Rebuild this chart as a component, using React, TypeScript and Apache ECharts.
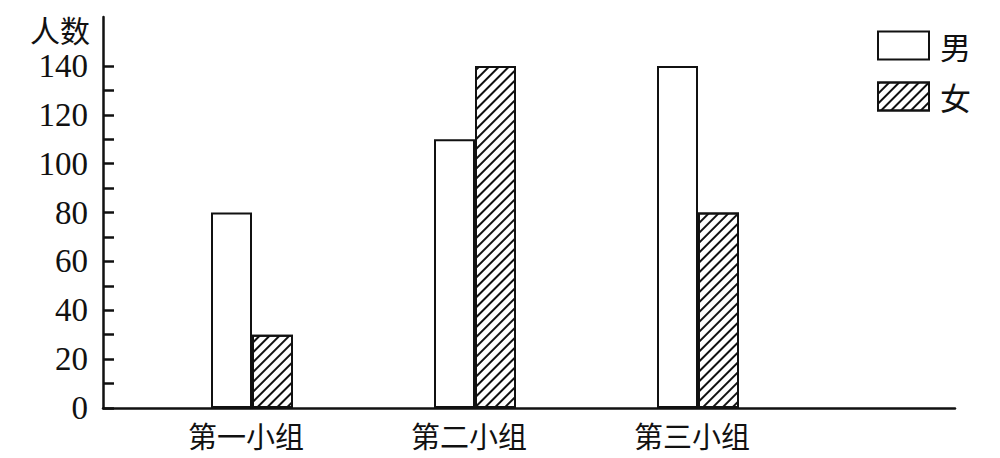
import React, { useEffect, useRef } from "react";
import * as echarts from "echarts";

const categories = ["第一小组", "第二小组", "第三小组"];
const maleValues = [80, 110, 140];
const femaleValues = [30, 140, 80];
const yLabelValues = [0, 20, 40, 60, 80, 100, 120, 140];
const yTickValues = [0, 10, 20, 30, 40, 50, 60, 70, 80, 90, 100, 110, 120, 130, 140];
const seriesNames = ["男", "女"];
const yName = "人数";

export default function App() {
  const ref = useRef<HTMLDivElement>(null);
  useEffect(() => {
    if (!ref.current) return;
    const chart = echarts.init(ref.current, undefined, { renderer: "svg" });
    const serif = "'Liberation Serif', 'Noto Sans CJK SC', serif";
    const cjk = "'Noto Sans CJK SC', sans-serif";
    chart.setOption({
      animation: false,
      backgroundColor: "#fff",
      legend: {
        orient: "vertical",
        left: 872,
        top: 25,
        itemWidth: 51,
        itemHeight: 28,
        itemGap: 20,
        icon: "rect",
        data: seriesNames,
        textStyle: { fontFamily: cjk, fontSize: 31, color: "#111", padding: [0, 0, 0, 6] },
      },
      graphic: [
        {
          type: "text",
          left: 30,
          top: 13,
          style: { text: yName, font: `30px ${cjk}`, fill: "#111", lineHeight: 32 },
        },
      ],
      grid: [
        { left: 103, right: 45, top: 17, bottom: 50, containLabel: false },
        { left: 140.5, width: 669, top: 17, bottom: 50, containLabel: false },
      ],
      xAxis: [
        {
          gridIndex: 0,
          type: "category",
          data: [],
          axisLine: { show: true, lineStyle: { color: "#111", width: 2.5 } },
          axisTick: { show: false },
          axisLabel: { show: false },
          splitLine: { show: false },
        },
        {
          gridIndex: 1,
          type: "category",
          data: categories,
          axisLine: { show: false },
          axisTick: { show: false },
          axisLabel: {
            fontFamily: cjk,
            fontSize: 29,
            color: "#111",
            margin: 12,
            padding: [0, 12, 0, 0],
          },
        },
      ],
      yAxis: [
        {
          gridIndex: 0,
          type: "value",
          min: 0,
          max: 160,
          axisLine: { show: true, lineStyle: { color: "#111", width: 2.5 } },
          axisTick: {
            show: true,
            inside: true,
            length: 11,
            customValues: yTickValues,
            lineStyle: { color: "#111", width: 2.5 },
          },
          axisLabel: {
            customValues: yLabelValues,
            fontFamily: serif,
            fontSize: 33,
            color: "#111",
            margin: 15,
            lineHeight: 30,
          },
          splitLine: { show: false },
        },
        {
          gridIndex: 1,
          type: "value",
          min: 0,
          max: 160,
          show: false,
          splitLine: { show: false },
        },
      ],
      series: [
        {
          name: seriesNames[0],
          type: "bar",
          xAxisIndex: 1,
          yAxisIndex: 1,
          data: maleValues,
          barWidth: 41,
          barGap: "0%",
          itemStyle: { color: "#fff", borderColor: "#111", borderWidth: 2 },
        },
        {
          name: seriesNames[1],
          type: "bar",
          xAxisIndex: 1,
          yAxisIndex: 1,
          data: femaleValues,
          barWidth: 41,
          barGap: "0%",
          itemStyle: {
            color: "#fff",
            borderColor: "#111",
            borderWidth: 2,
            decal: {
              symbol: "rect",
              symbolSize: 1,
              color: "#111",
              backgroundColor: "#fff",
              dashArrayX: [1, 0],
              dashArrayY: [2, 5],
              rotation: -Math.PI / 4,
            },
          },
        },
      ],
    });
    return () => chart.dispose();
  }, []);
  return <div ref={ref} style={{ width: 1000, height: 458, position: "absolute", left: 0, top: 0 }} />;
}
